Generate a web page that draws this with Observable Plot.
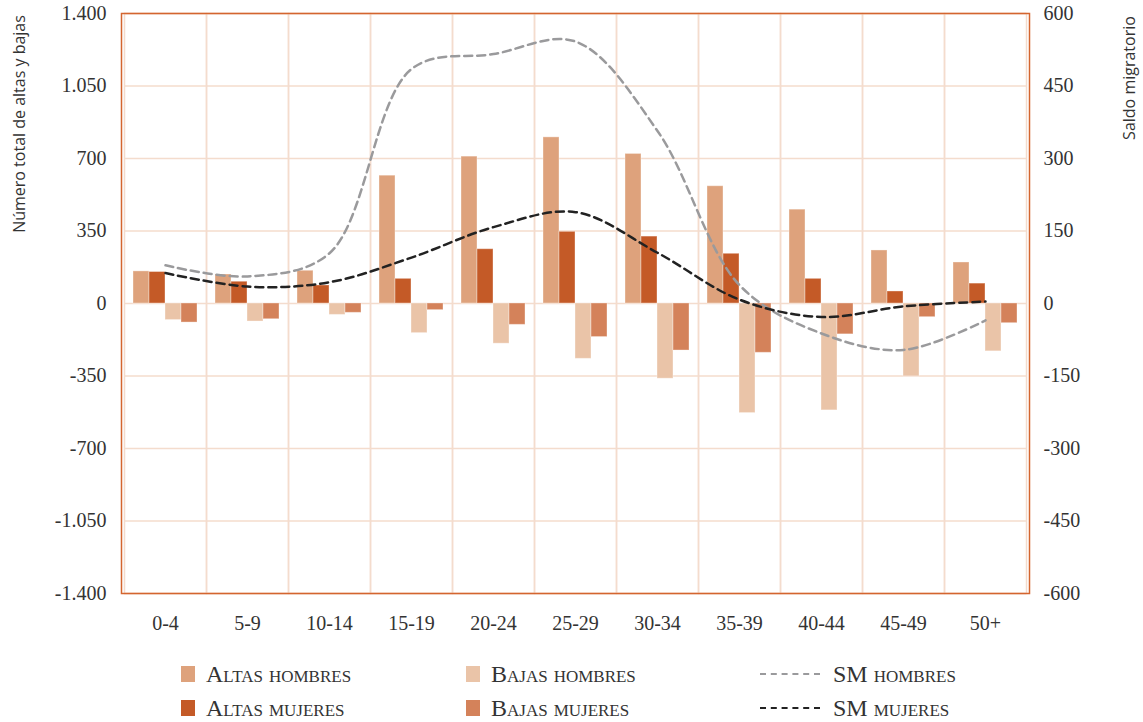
<!DOCTYPE html>
<html>
<head>
<meta charset="utf-8">
<script src="https://cdn.jsdelivr.net/npm/d3@7"></script>
<script src="https://cdn.jsdelivr.net/npm/@observablehq/plot@0.6"></script>
<style>
  body { margin: 0; background: white; }
  #chart { position: relative; width: 1143px; height: 645px; }
  #chart svg { position: absolute; left: 0; top: 0; }
  #legend { width: 1143px; height: 77px; position: relative; font-family: 'Liberation Serif', serif; font-variant: small-caps; font-size: 24px; color: #333; }
  .item { position: absolute; display: flex; align-items: center; height: 34px; }
  .sw { width: 14px; height: 16px; margin-right: 11px; }
  .ln { width: 60px; height: 0; border-top: 2.5px dashed; margin-right: 13px; }
</style>
</head>
<body>
<div id="chart"></div>
<div id="legend"></div>
<script>
const ages = ["0-4","5-9","10-14","15-19","20-24","25-29","30-34","35-39","40-44","45-49","50+"];
const altasHombres = [155, 140, 158, 617, 709, 802, 722, 566, 453, 256, 198];
const altasMujeres = [152, 105, 87, 119, 262, 346, 323, 240, 119, 58, 96];
const bajasHombres = [-80, -87, -55, -143, -194, -267, -363, -529, -516, -352, -231];
const bajasMujeres = [-92, -76, -45, -32, -103, -162, -227, -238, -149, -66, -95];
const smHombres = [79, 56, 104, 485, 516, 542, 357, 38, -62, -96, -35];
const smMujeres = [63, 35, 44, 95, 158, 189, 105, 8, -28, -6, 4];

const barSeries = ["Altas hombres", "Altas mujeres", "Bajas hombres", "Bajas mujeres"];
const barColors = ["#dea27c", "#c45a27", "#eac4a8", "#d4825a"];
const lineSeries = ["SM hombres", "SM mujeres"];
const lineColors = ["#9a9a9c", "#222222"];
const yLeftTicks = [-1400, -1050, -700, -350, 0, 350, 700, 1050, 1400];
const yRightTicks = [-600, -450, -300, -150, 0, 150, 300, 450, 600];
const leftLabel = "Número total de altas y bajas";
const rightLabel = "Saldo migratorio";

const gridColor = "#f4dccd";
const frameColor = "#d4652f";
const W = 1143, H = 645;
const margins = {marginLeft: 121, marginRight: 114, marginTop: 13, marginBottom: 52};

const barValues = [altasHombres, altasMujeres, bajasHombres, bajasMujeres];
const bars = ages.flatMap((age, i) => barSeries.map((s, j) => ({age, serie: s, value: barValues[j][i]})));
const lineValues = [smHombres, smMujeres];
const lines = lineSeries.flatMap((s, j) => ages.map((age, i) => ({age, serie: s, value: lineValues[j][i]})));

const fmt = d => d3.format(",")(d).replace(/,/g, ".").replace("\u2212", "-");
const baseStyle = {fontFamily: "'Liberation Serif', serif", fontSize: "20px", color: "#333", overflow: "visible"};

const plotA = Plot.plot({
  width: W, height: H, ...margins,
  style: {...baseStyle, background: "white"},
  fx: {domain: ages, padding: 0, label: null, axis: "bottom", tickSize: 0, tickPadding: 22},
  x: {domain: barSeries, axis: null, paddingInner: 0, paddingOuter: 0.5},
  y: {domain: [-1400, 1400], ticks: yLeftTicks, tickFormat: fmt, tickSize: 0, tickPadding: 18, label: null},
  color: {domain: barSeries, range: barColors},
  marks: [
    Plot.ruleY(yLeftTicks, {stroke: gridColor, strokeWidth: 1.5}),
    Plot.frame({stroke: gridColor, strokeWidth: 1.5}),
    Plot.barY(bars, {fx: "age", x: "serie", y: "value", fill: "serie", inset: 0, stroke: "white", strokeOpacity: 0.35, strokeWidth: 1})
  ]
});

const plotB = Plot.plot({
  width: W, height: H, ...margins,
  style: {...baseStyle, background: "transparent"},
  x: {type: "point", domain: ages, padding: 0.5, axis: null},
  y: {domain: [-600, 600], ticks: yRightTicks, tickFormat: fmt, axis: "right", tickSize: 0, tickPadding: 14, label: null},
  color: {domain: lineSeries, range: lineColors},
  marks: [
    Plot.frame({stroke: frameColor, strokeWidth: 1.5}),
    Plot.line(lines, {x: "age", y: "value", stroke: "serie", z: "serie", curve: "catmull-rom", strokeWidth: 2.5, strokeDasharray: "8,5"})
  ]
});

const chart = document.getElementById("chart");
chart.appendChild(plotA);
chart.appendChild(plotB);

for (const p of [plotA, plotB]) {
  d3.select(p).selectAll("text")
    .style("font-family", "'Liberation Serif', serif", "important")
    .style("font-size", "20px", "important")
    .style("fill", "#333", "important");
}

const sB = d3.select(plotB);
for (const [label, tr] of [[leftLabel, "translate(19,124) rotate(-90)"], [rightLabel, "translate(1129,78) rotate(-90)"]]) {
  sB.append("text").text(label)
    .attr("transform", tr)
    .attr("text-anchor", "middle").attr("dy", "0.35em")
    .style("font-family", "'Open Sans', sans-serif", "important")
    .style("font-size", "16px", "important")
    .style("fill", "#333", "important");
}

// Legend
const legend = document.getElementById("legend");
const cols = [181, 466, 760];
const rows = [12, 46];
const legendItems = [
  {label: barSeries[0], color: barColors[0], type: "bar", c: 0, r: 0},
  {label: barSeries[2], color: barColors[2], type: "bar", c: 1, r: 0},
  {label: lineSeries[0], color: lineColors[0], type: "line", c: 2, r: 0},
  {label: barSeries[1], color: barColors[1], type: "bar", c: 0, r: 1},
  {label: barSeries[3], color: barColors[3], type: "bar", c: 1, r: 1},
  {label: lineSeries[1], color: lineColors[1], type: "line", c: 2, r: 1}
];
for (const it of legendItems) {
  const div = document.createElement("div");
  div.className = "item";
  div.style.left = cols[it.c] + "px";
  div.style.top = rows[it.r] + "px";
  const mark = document.createElement("span");
  if (it.type === "bar") { mark.className = "sw"; mark.style.background = it.color; }
  else { mark.className = "ln"; mark.style.borderTopColor = it.color; }
  const txt = document.createElement("span");
  txt.textContent = it.label;
  div.appendChild(mark);
  div.appendChild(txt);
  legend.appendChild(div);
}
</script>
</body>
</html>
